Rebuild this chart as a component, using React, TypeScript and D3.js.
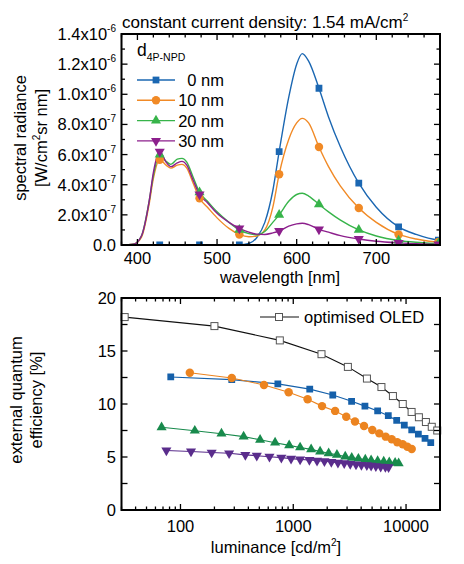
import React from 'react';
import * as d3 from 'd3';

const FONT = '"Liberation Sans", Arial, Helvetica, sans-serif';

// ---- top panel: spectra (radiance in units of 1e-6 W/cm^2 sr nm) ----
const wavelengths = [380, 395, 405, 415, 420, 428, 436, 442, 450, 456, 462, 470, 478, 488, 500, 515, 528, 540, 550, 560, 570, 578, 590, 600, 607, 615, 628, 640, 655, 678, 700, 728, 750, 778, 780];
const rad0nm = [0, 0, 0, 0, 0, 0, 0, 0, 0, 0, 0, 0, 0, 0, 0, 0, 0, 0.01, 0.05, 0.15, 0.36, 0.62, 0.98, 1.2, 1.27, 1.22, 1.04, 0.85, 0.65, 0.41, 0.25, 0.12, 0.07, 0.033, 0.032];
const rad10nm = [0, 0.005, 0.05, 0.28, 0.44, 0.565, 0.53, 0.51, 0.53, 0.535, 0.51, 0.41, 0.31, 0.25, 0.18, 0.11, 0.07, 0.055, 0.06, 0.1, 0.25, 0.47, 0.7, 0.81, 0.84, 0.81, 0.65, 0.52, 0.39, 0.245, 0.15, 0.07, 0.04, 0.02, 0.02];
const rad20nm = [0, 0.005, 0.06, 0.3, 0.46, 0.6, 0.555, 0.535, 0.57, 0.575, 0.55, 0.45, 0.35, 0.29, 0.22, 0.15, 0.1, 0.075, 0.068, 0.09, 0.15, 0.2, 0.29, 0.335, 0.343, 0.325, 0.27, 0.22, 0.165, 0.1, 0.06, 0.03, 0.018, 0.01, 0.01];
const rad30nm = [0, 0.005, 0.06, 0.3, 0.48, 0.62, 0.55, 0.52, 0.545, 0.555, 0.53, 0.43, 0.335, 0.28, 0.21, 0.15, 0.11, 0.085, 0.072, 0.07, 0.08, 0.093, 0.125, 0.14, 0.144, 0.135, 0.104, 0.085, 0.062, 0.04, 0.025, 0.014, 0.008, 0.004, 0.004];
const markerWavelengths = [428, 478, 528, 578, 628, 678, 728, 778];

const topYTicks = [0, 0.2, 0.4, 0.6, 0.8, 1.0, 1.2, 1.4];
const topYLabels = [['0.0', ''], ['2.0x10', '-7'], ['4.0x10', '-7'], ['6.0x10', '-7'], ['8.0x10', '-7'], ['1.0x10', '-6'], ['1.2x10', '-6'], ['1.4x10', '-6']];
const topXTicks = [400, 500, 600, 700];

// ---- bottom panel: EQE vs luminance ----
const lumOpt = [32, 200, 760, 1780, 3050, 4500, 6050, 7650, 9350, 11200, 13000, 15000, 16900, 18900];
const eqeOpt = [18.2, 17.35, 16.0, 14.7, 13.5, 12.4, 11.6, 10.75, 10.0, 9.25, 8.75, 8.3, 7.85, 7.5];
const lum0nm = [82, 285, 730, 1400, 2240, 3290, 4320, 5600, 6960, 8260, 9650, 11230, 12860, 14730, 16560];
const eqe0nm = [12.55, 12.3, 11.9, 11.4, 10.85, 10.25, 9.8, 9.35, 8.9, 8.45, 8.0, 7.55, 7.15, 6.75, 6.35];
const lum10nm = [121, 285, 550, 910, 1340, 1800, 2350, 2950, 3525, 4240, 5020, 5790, 6600, 7460, 8360, 9340, 10270, 11230];
const eqe10nm = [12.95, 12.45, 11.8, 11.1, 10.45, 9.8, 9.35, 8.8, 8.35, 7.92, 7.55, 7.23, 6.92, 6.67, 6.39, 6.2, 5.97, 5.75];
const lum20nm = [68, 134, 231, 363, 508, 690, 920, 1150, 1440, 1730, 2060, 2440, 2890, 3300, 3780, 4350, 4900, 5600, 6340, 7100, 8000, 8600];
const eqe20nm = [7.8, 7.48, 7.2, 6.92, 6.62, 6.35, 6.1, 5.9, 5.72, 5.52, 5.35, 5.2, 5.05, 4.93, 4.84, 4.76, 4.69, 4.62, 4.56, 4.5, 4.44, 4.4];
const lum30nm = [75, 124, 189, 270, 376, 475, 615, 784, 956, 1150, 1390, 1625, 1890, 2175, 2490, 2830, 3200, 3600, 4020, 4490, 4900, 5400, 5960, 6560, 7000];
const eqe30nm = [5.62, 5.52, 5.42, 5.35, 5.2, 5.12, 5.03, 4.94, 4.85, 4.78, 4.72, 4.65, 4.6, 4.53, 4.47, 4.41, 4.35, 4.31, 4.26, 4.22, 4.18, 4.13, 4.09, 4.06, 4.03];

const botYTicks = [0, 5, 10, 15, 20];
const botXTicks = [100, 1000, 10000];

type Shape = 'square' | 'circle' | 'triangle' | 'down' | 'open';

const spectra = [
  { label: '0 nm', values: rad0nm, color: '#1b67b2', shape: 'square' as Shape },
  { label: '10 nm', values: rad10nm, color: '#f18a26', shape: 'circle' as Shape },
  { label: '20 nm', values: rad20nm, color: '#37b44a', shape: 'triangle' as Shape },
  { label: '30 nm', values: rad30nm, color: '#8c1f8c', shape: 'down' as Shape },
];

const eqeSeries = [
  { lum: lumOpt, eqe: eqeOpt, color: '#111', shape: 'open' as Shape },
  { lum: lum0nm, eqe: eqe0nm, color: '#1560aa', shape: 'square' as Shape },
  { lum: lum10nm, eqe: eqe10nm, color: '#ec8420', shape: 'circle' as Shape },
  { lum: lum20nm, eqe: eqe20nm, color: '#188a4c', shape: 'triangle' as Shape },
  { lum: lum30nm, eqe: eqe30nm, color: '#5a2d8c', shape: 'down' as Shape },
];

function Marker({ x, y, shape, color }: { x: number; y: number; shape: Shape; color: string }) {
  if (shape === 'open') {
    return <rect x={x - 3.5} y={y - 3.5} width={7} height={7} fill="#fff" stroke="#555" strokeWidth={1} />;
  }
  const sym =
    shape === 'square' ? d3.symbolSquare : shape === 'circle' ? d3.symbolCircle : d3.symbolTriangle;
  const size = shape === 'square' ? 46 : shape === 'circle' ? 56 : 44;
  const d = d3.symbol(sym, size)() as string;
  const rot = shape === 'down' ? ' rotate(180)' : '';
  return <path d={d} transform={`translate(${x},${y})${rot}`} fill={color} />;
}

// plot frames
const L = 121.5, R = 440;
const T1 = 34, B1 = 245;
const T2 = 298, B2 = 510;

export default function App() {
  const x1 = d3.scaleLinear().domain([380, 780]).range([L, R]);
  const y1 = d3.scaleLinear().domain([0, 1.4]).range([B1, T1]);
  const x2 = d3.scaleLog().domain([30, 20000]).range([L, R]);
  const y2 = d3.scaleLinear().domain([0, 20]).range([B2, T2]);

  const specLine = d3
    .line<number>()
    .x((_, i) => x1(wavelengths[i]))
    .y((v) => y1(v))
    .curve(d3.curveMonotoneX);

  const eqeLine = d3
    .line<[number, number]>()
    .x((d) => x2(d[0]))
    .y((d) => y2(d[1]));

  const topXMinor = d3.range(380, 781, 20).filter((v) => v % 100 !== 0);
  const topYMinor = d3.range(0.1, 1.4, 0.2);
  const botXMinor: number[] = [];
  [10, 100, 1000, 10000].forEach((dec) => {
    for (let m = 2; m <= 9; m++) {
      const v = m * dec;
      if (v >= 30 && v <= 20000) botXMinor.push(v);
    }
  });
  const botYMinor = [2.5, 7.5, 12.5, 17.5];

  const MAJ = 6, MIN = 3.5;
  const FS = 16.5;
  const tick = (k: string, xA: number, yA: number, xB: number, yB: number) => (
    <line key={k} x1={xA} y1={yA} x2={xB} y2={yB} stroke="#000" strokeWidth={1.3} />
  );

  return (
    <svg width={464} height={564} style={{ position: 'absolute', left: 0, top: 0, background: '#fff' }} fontFamily={FONT}>
      {/* ===== top panel ===== */}
      <text x={122} y={28} fontSize={17}>
        constant current density: 1.54 mA/cm<tspan dy={-7} fontSize={10}>2</tspan>
      </text>
      <defs>
        <clipPath id="clipTop">
          <rect x={L} y={T1} width={R - L} height={B1 - T1} />
        </clipPath>
      </defs>
      <g clipPath="url(#clipTop)">
        {spectra.map((s) => (
          <path key={s.label} d={specLine(s.values) as string} fill="none" stroke={s.color} strokeWidth={1.4} />
        ))}
        {spectra.map((s) =>
          markerWavelengths.map((w) => {
            const i = wavelengths.indexOf(w);
            return <Marker key={s.label + w} x={x1(w)} y={y1(s.values[i])} shape={s.shape} color={s.color} />;
          })
        )}
      </g>
      {/* legend */}
      <text x={137} y={56} fontSize={17.5}>
        d<tspan fontSize={10.5} dy={5}>4P-NPD</tspan>
      </text>
      {spectra.map((s, i) => {
        const ly = 80 + i * 20.3;
        return (
          <g key={'lg' + s.label}>
            <line x1={137} x2={175} y1={ly} y2={ly} stroke={s.color} strokeWidth={1.4} />
            <Marker x={156} y={ly} shape={s.shape} color={s.color} />
            <text x={224} y={ly + 6} fontSize={FS} textAnchor="end">{s.label}</text>
          </g>
        );
      })}
      {/* ticks */}
      {topXTicks.map((v) => [tick('tb' + v, x1(v), B1, x1(v), B1 - MAJ), tick('tt' + v, x1(v), T1, x1(v), T1 + MAJ)])}
      {topXMinor.map((v) => [tick('tbm' + v, x1(v), B1, x1(v), B1 - MIN), tick('ttm' + v, x1(v), T1, x1(v), T1 + MIN)])}
      {topYTicks.map((v) => [tick('tl' + v, L, y1(v), L + MAJ, y1(v)), tick('tr' + v, R, y1(v), R - MAJ, y1(v))])}
      {topYMinor.map((v) => [tick('tlm' + v, L, y1(v), L + MIN, y1(v)), tick('trm' + v, R, y1(v), R - MIN, y1(v))])}
      <rect x={L} y={T1} width={R - L} height={B1 - T1} fill="none" stroke="#000" strokeWidth={2} />
      {topYTicks.map((v, i) => (
        <text key={'tyl' + v} x={116} y={y1(v) + 6} fontSize={FS} textAnchor="end">
          {topYLabels[i][0]}
          {topYLabels[i][1] && <tspan dy={-8} fontSize={10}>{topYLabels[i][1]}</tspan>}
        </text>
      ))}
      {topXTicks.map((v) => (
        <text key={'txl' + v} x={x1(v)} y={263.5} fontSize={FS} textAnchor="middle">{v}</text>
      ))}
      <text x={280} y={283} fontSize={FS} textAnchor="middle">wavelength [nm]</text>
      <text transform={`translate(26,138) rotate(-90)`} fontSize={FS} textAnchor="middle">spectral radiance</text>
      <text transform={`translate(47,138) rotate(-90)`} fontSize={FS} textAnchor="middle">
        [W/cm<tspan dy={-7} fontSize={10}>2</tspan><tspan dy={7}>sr nm]</tspan>
      </text>

      {/* ===== bottom panel ===== */}
      <defs>
        <clipPath id="clipBot">
          <rect x={L - 5} y={T2 - 5} width={R - L + 10} height={B2 - T2 + 10} />
        </clipPath>
      </defs>
      <g clipPath="url(#clipBot)">
        {eqeSeries.map((s, k) => (
          <path
            key={'el' + k}
            d={eqeLine(s.lum.map((l, i) => [l, s.eqe[i]] as [number, number])) as string}
            fill="none"
            stroke={s.color}
            strokeWidth={1.1}
          />
        ))}
        {eqeSeries.map((s, k) =>
          s.lum.map((l, i) => <Marker key={'em' + k + '-' + i} x={x2(l)} y={y2(s.eqe[i])} shape={s.shape} color={s.color} />)
        )}
      </g>
      {/* legend */}
      <line x1={260} x2={299} y1={317} y2={317} stroke="#111" strokeWidth={1.1} />
      <Marker x={279} y={317} shape="open" color="#111" />
      <text x={304} y={323} fontSize={FS}>optimised OLED</text>
      {/* ticks */}
      {botXTicks.map((v) => [tick('bb' + v, x2(v), B2, x2(v), B2 - MAJ), tick('bt' + v, x2(v), T2, x2(v), T2 + MAJ)])}
      {botXMinor.map((v) => [tick('bbm' + v, x2(v), B2, x2(v), B2 - MIN), tick('btm' + v, x2(v), T2, x2(v), T2 + MIN)])}
      {botYTicks.map((v) => [tick('bl' + v, L, y2(v), L + MAJ, y2(v)), tick('br' + v, R, y2(v), R - MAJ, y2(v))])}
      {botYMinor.map((v) => [tick('blm' + v, L, y2(v), L + MAJ, y2(v)), tick('brm' + v, R, y2(v), R - MAJ, y2(v))])}
      <rect x={L} y={T2} width={R - L} height={B2 - T2} fill="none" stroke="#000" strokeWidth={2} />
      {botYTicks.map((v) => (
        <text key={'byl' + v} x={116} y={y2(v) + 6} fontSize={FS} textAnchor="end">{v}</text>
      ))}
      {botXTicks.map((v) => (
        <text key={'bxl' + v} x={x2(v)} y={532} fontSize={FS} textAnchor="middle">{v}</text>
      ))}
      <text x={276} y={553} fontSize={FS} textAnchor="middle">
        luminance [cd/m<tspan dy={-7} fontSize={10}>2</tspan><tspan dy={7}>]</tspan>
      </text>
      <text transform={`translate(22,400) rotate(-90)`} fontSize={FS} textAnchor="middle">external quantum</text>
      <text transform={`translate(42,400) rotate(-90)`} fontSize={FS} textAnchor="middle">efficiency [%]</text>
    </svg>
  );
}
